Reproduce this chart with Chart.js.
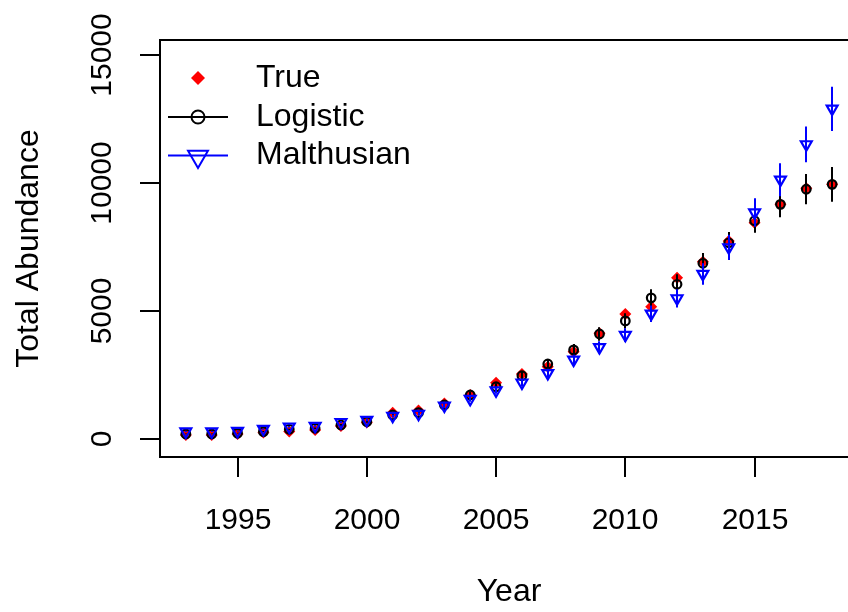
<!DOCTYPE html>
<html>
<head>
<meta charset="utf-8">
<script src="https://cdn.jsdelivr.net/npm/chart.js@4/dist/chart.umd.min.js"></script>
<style>
  html, body { margin: 0; padding: 0; background: #ffffff; overflow: hidden; }
  #wrap { width: 848px; height: 612px; overflow: hidden; position: relative; }
  #c { position: absolute; left: 0; top: 0; width: 858px; height: 612px; max-width: none; }
</style>
</head>
<body>
<div id="wrap"><canvas id="c" width="858" height="612"></canvas></div>
<script>
// Observed and fitted population totals, 1993-2018
const years = [1993, 1994, 1995, 1996, 1997, 1998, 1999, 2000, 2001, 2002, 2003, 2004, 2005,
               2006, 2007, 2008, 2009, 2010, 2011, 2012, 2013, 2014, 2015, 2016, 2017, 2018];

const trueAbundance = [170, 170, 210, 270, 300, 360, 520, 660, 1040, 1120, 1400, 1730, 2210,
                       2550, 2830, 3420, 4140, 4890, 5170, 6310, 6930, 7740, 8450, 9170, 9800, 9950];

const logisticFit = [210, 210, 240, 300, 390, 430, 560, 690, 950, 1040, 1340, 1730, 2050,
                     2480, 2940, 3490, 4110, 4620, 5520, 6050, 6870, 7670, 8530, 9170, 9760, 9950];
const logisticSE = [15, 15, 17, 20, 26, 29, 37, 46, 63, 69, 89, 115, 137,
                    165, 195, 232, 262, 300, 340, 390, 400, 420, 470, 500, 590, 680];

const malthusFit = [300, 300, 320, 400, 490, 520, 670, 750, 910, 990, 1310, 1570, 1900,
                    2210, 2580, 3100, 3590, 4070, 4900, 5500, 6450, 7490, 8850, 10130, 11510, 12900];
const malthusSE = [20, 20, 21, 26, 32, 34, 44, 49, 59, 64, 85, 102, 124,
                   145, 170, 200, 235, 265, 320, 360, 420, 490, 555, 640, 700, 865];

const xTicks = [1995, 2000, 2005, 2010, 2015];
const yTicks = [0, 5000, 10000, 15000];

const seriesNames = ['True', 'Logistic', 'Malthusian'];
const xTitle = 'Year';
const yTitle = 'Total Abundance';

const FONT = '"Liberation Sans", Arial, Helvetica, sans-serif';
const RED = '#FF0000', BLACK = '#000000', BLUE = '#0000FF';

function pts(ys) { return years.map((x, i) => ({ x: x, y: ys[i] })); }

// marker helpers used by the legend
function diamond(ctx, x, y, r, color) {
  ctx.beginPath();
  ctx.moveTo(x, y - r); ctx.lineTo(x + r, y); ctx.lineTo(x, y + r); ctx.lineTo(x - r, y);
  ctx.closePath();
  ctx.fillStyle = color; ctx.fill();
}
function ring(ctx, x, y, r, color, lw) {
  ctx.beginPath(); ctx.arc(x, y, r, 0, Math.PI * 2);
  ctx.strokeStyle = color; ctx.lineWidth = lw; ctx.stroke();
}
function downTri(ctx, x, y, r, color, lw) {
  const s = Math.sin(Math.PI / 3) * r, c = r / 2;
  ctx.beginPath();
  ctx.moveTo(x, y + r); ctx.lineTo(x + s, y - c); ctx.lineTo(x - s, y - c);
  ctx.closePath();
  ctx.strokeStyle = color; ctx.lineWidth = lw; ctx.stroke();
}

// vertical +/- SE bars, drawn just beneath each series' markers
const errorBars = {
  id: 'errorBars',
  beforeDatasetDraw(chart, args) {
    const ds = chart.data.datasets[args.index];
    if (!ds.se) return;
    const { ctx, scales: { x, y }, chartArea } = chart;
    ctx.save();
    ctx.beginPath();
    ctx.rect(chartArea.left, chartArea.top, chartArea.right - chartArea.left, chartArea.bottom - chartArea.top);
    ctx.clip();
    ctx.strokeStyle = ds.borderColor;
    ctx.lineWidth = 2;
    ds.data.forEach((p, i) => {
      const px = Math.round(x.getPixelForValue(p.x));
      ctx.beginPath();
      ctx.moveTo(px, y.getPixelForValue(p.y - ds.se[i]));
      ctx.lineTo(px, y.getPixelForValue(p.y + ds.se[i]));
      ctx.stroke();
    });
    ctx.restore();
  }
};

// base-graphics style frame, axes, titles and legend
const frame = {
  id: 'frame',
  afterDraw(chart) {
    const { ctx, scales: { x, y }, chartArea: a } = chart;
    ctx.save();
    ctx.strokeStyle = BLACK;
    ctx.fillStyle = BLACK;
    ctx.lineWidth = 2;
    ctx.strokeRect(a.left, a.top, a.right - a.left, a.bottom - a.top);

    ctx.font = '30px ' + FONT;
    // x axis
    const x0 = x.getPixelForValue(xTicks[0]), x1 = x.getPixelForValue(xTicks[xTicks.length - 1]);
    ctx.beginPath(); ctx.moveTo(x0, a.bottom); ctx.lineTo(x1, a.bottom); ctx.stroke();
    ctx.textAlign = 'center'; ctx.textBaseline = 'middle';
    xTicks.forEach(v => {
      const px = Math.round(x.getPixelForValue(v));
      ctx.beginPath(); ctx.moveTo(px, a.bottom); ctx.lineTo(px, a.bottom + 20); ctx.stroke();
      ctx.fillText(String(v), px, a.bottom + 64);
    });
    // y axis
    const y0 = y.getPixelForValue(yTicks[0]), y1 = y.getPixelForValue(yTicks[yTicks.length - 1]);
    ctx.beginPath(); ctx.moveTo(a.left, y0); ctx.lineTo(a.left, y1); ctx.stroke();
    yTicks.forEach(v => {
      const py = Math.round(y.getPixelForValue(v));
      ctx.beginPath(); ctx.moveTo(a.left, py); ctx.lineTo(a.left - 20, py); ctx.stroke();
      ctx.save();
      ctx.translate(a.left - 57, py);
      ctx.rotate(-Math.PI / 2);
      ctx.fillText(String(v), 0, 0);
      ctx.restore();
    });
    // titles
    ctx.font = '32px ' + FONT;
    ctx.fillText(xTitle, (a.left + a.right) / 2, 592);
    ctx.save();
    ctx.translate(29, (a.top + a.bottom) / 2);
    ctx.rotate(-Math.PI / 2);
    ctx.fillText(yTitle, 0, 0);
    ctx.restore();

    // legend
    const lx = 198, rows = [78, 117, 155.5];
    ctx.textAlign = 'left';
    diamond(ctx, lx, rows[0], 7, RED);
    ctx.fillStyle = BLACK;
    ctx.fillText(seriesNames[0], 256, rows[0]);

    ctx.lineWidth = 2;
    ctx.strokeStyle = BLACK;
    ctx.beginPath(); ctx.moveTo(168, rows[1]); ctx.lineTo(228, rows[1]); ctx.stroke();
    ring(ctx, lx, rows[1], 6.5, BLACK, 2);
    ctx.fillText(seriesNames[1], 256, rows[1]);

    ctx.strokeStyle = BLUE;
    ctx.beginPath(); ctx.moveTo(168, rows[2]); ctx.lineTo(228, rows[2]); ctx.stroke();
    downTri(ctx, lx, rows[2] + 1, 11.5, BLUE, 2);
    ctx.fillStyle = BLACK;
    ctx.fillText(seriesNames[2], 256, rows[2]);
    ctx.restore();
  }
};

new Chart(document.getElementById('c'), {
  type: 'scatter',
  data: {
    datasets: [
      {
        label: seriesNames[0], data: pts(trueAbundance), order: 3,
        pointStyle: 'rectRot', pointRadius: 6, backgroundColor: RED, borderColor: RED, borderWidth: 0
      },
      {
        label: seriesNames[1], data: pts(logisticFit), se: logisticSE, order: 2,
        pointStyle: 'circle', pointRadius: 4.3, backgroundColor: 'rgba(0,0,0,0)',
        borderColor: BLACK, borderWidth: 2.2
      },
      {
        label: seriesNames[2], data: pts(malthusFit), se: malthusSE, order: 1,
        pointStyle: 'triangle', rotation: 180, pointRadius: 6.3, backgroundColor: 'rgba(0,0,0,0)',
        borderColor: BLUE, borderWidth: 2.2
      }
    ]
  },
  options: {
    responsive: false,
    devicePixelRatio: 1,
    animation: false,
    events: [],
    layout: { autoPadding: false, padding: { left: 160, top: 40, right: 0, bottom: 155 } },
    plugins: { legend: { display: false }, tooltip: { enabled: false } },
    scales: {
      x: { type: 'linear', display: false, min: 1992, max: 2019 },
      y: { type: 'linear', display: false, min: -691, max: 15585 }
    }
  },
  plugins: [errorBars, frame]
});
</script>
</body>
</html>
